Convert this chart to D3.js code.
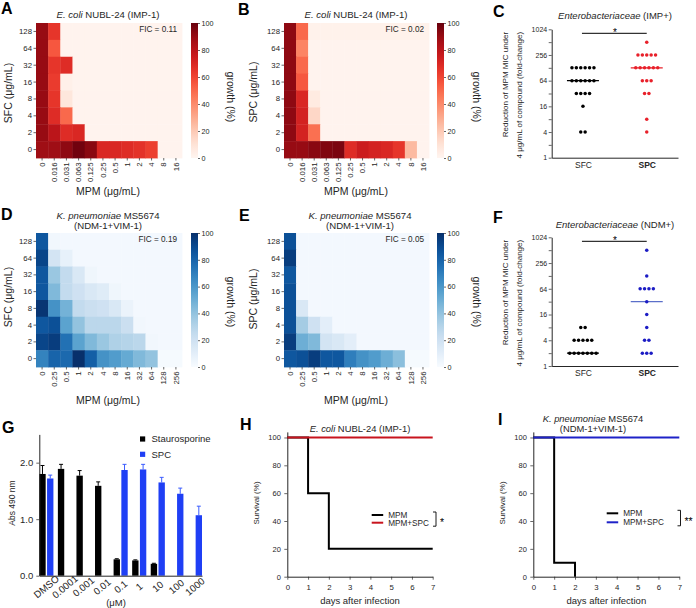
<!DOCTYPE html>
<html lang="en">
<head>
<meta charset="utf-8">
<title>MPM combination figure</title>
<script src="https://d3js.org/d3.v7.min.js"></script>
<style>
  body { margin: 0; background: #fff; }
  svg { display: block; }
</style>
</head>
<body>
<svg id="fig" width="696" height="608"></svg>
<script>
/* global d3 */
const FONT = "'Liberation Sans', Arial, Helvetica, sans-serif";
const INK = "#262626";

// ---------- heatmap data (growth %) ----------
const rowsConc = ["128", "64", "32", "16", "8", "4", "2", "0"];
const mpmImp = ["0", "0.016", "0.031", "0.063", "0.125", "0.25", "0.5", "1", "2", "4", "8", "16"];
const mpmNdm = ["0", "0.25", "0.5", "1", "2", "4", "8", "16", "32", "64", "128", "256"];
const cbTicks = [0, 20, 40, 60, 80, 100];

const growthA = [
    [90, 65, 1, 1, 1, 1, 1, 1, 1, 1, 1, 1],
    [90, 55, 1, 1, 1, 1, 1, 1, 1, 1, 1, 1],
    [90, 65, 68, 1, 1, 1, 1, 1, 1, 1, 1, 1],
    [90, 63, 3, 1, 1, 1, 1, 1, 1, 1, 1, 1],
    [90, 65, 8, 1, 1, 1, 1, 1, 1, 1, 1, 1],
    [90, 68, 50, 1, 1, 1, 1, 1, 1, 1, 1, 1],
    [90, 80, 68, 70, 1, 1, 1, 1, 1, 1, 1, 1],
    [88, 88, 92, 98, 93, 70, 70, 68, 66, 62, 1, 1]
];
const growthB = [
    [92, 50, 2, 2, 2, 2, 2, 2, 2, 2, 2, 2],
    [92, 42, 1, 1, 1, 1, 1, 1, 1, 1, 1, 1],
    [92, 50, 1, 1, 1, 1, 1, 1, 1, 1, 1, 1],
    [92, 55, 1, 1, 1, 1, 1, 1, 1, 1, 1, 1],
    [92, 70, 6, 1, 1, 1, 1, 1, 1, 1, 1, 1],
    [92, 72, 15, 1, 1, 1, 1, 1, 1, 1, 1, 1],
    [92, 72, 48, 1, 1, 1, 1, 1, 1, 1, 1, 1],
    [90, 90, 93, 95, 96, 68, 75, 72, 70, 65, 25, 1]
];
const growthD = [
    [85, 3, 2, 2, 2, 2, 2, 2, 2, 2, 2, 2],
    [92, 18, 8, 2, 2, 2, 2, 2, 2, 2, 2, 2],
    [85, 38, 25, 15, 4, 2, 2, 2, 2, 2, 2, 2],
    [85, 45, 25, 20, 15, 12, 4, 2, 2, 2, 2, 2],
    [98, 62, 48, 25, 22, 20, 15, 6, 2, 2, 2, 2],
    [85, 88, 55, 40, 28, 28, 28, 22, 3, 2, 2, 2],
    [92, 95, 75, 55, 45, 38, 32, 30, 28, 3, 2, 2],
    [68, 80, 78, 100, 82, 62, 58, 52, 45, 40, 1, 1]
];
const growthE = [
    [88, 2, 2, 2, 2, 2, 2, 2, 2, 2, 2, 2],
    [95, 2, 2, 2, 2, 2, 2, 2, 2, 2, 2, 2],
    [85, 2, 2, 2, 2, 2, 2, 2, 2, 2, 2, 2],
    [88, 2, 2, 2, 2, 2, 2, 2, 2, 2, 2, 2],
    [88, 15, 2, 2, 2, 2, 2, 2, 2, 2, 2, 2],
    [88, 35, 20, 10, 2, 2, 2, 2, 2, 2, 2, 2],
    [95, 50, 45, 18, 15, 10, 2, 2, 2, 2, 2, 2],
    [85, 88, 95, 85, 85, 70, 62, 58, 50, 42, 1, 1]
];

// ---------- dot plot data (fold reduction of MPM MIC) ----------
const impSFC = [128, 128, 128, 128, 128, 128, 64, 64, 64, 64, 64, 64, 32, 32, 32, 32, 16, 4, 4];
const impSPC = [512, 256, 256, 256, 256, 256, 128, 128, 128, 128, 128, 128, 64, 64, 64, 32, 32, 8, 4];
const ndmSFC = [8, 8, 4, 4, 4, 4, 4, 2, 2, 2, 2, 2, 2, 2];
const ndmSPC = [512, 128, 64, 64, 64, 64, 32, 16, 8, 4, 4, 2, 2, 2];
const medIMP = [64, 128];
const medNDM = [2, 32];
const foldTicks = [1, 2, 4, 8, 16, 32, 64, 128, 256, 512, 1024];
const foldLabels = [1, 4, 16, 64, 256, 1024];

// ---------- cytotoxicity bars ----------
const concG = ["DMSO", "0.0001", "0.001", "0.01", "0.1", "1", "10", "100", "1000"];
const stauroAbs = [1.80, 1.89, 1.77, 1.59, 0.29, 0.27, 0.21, null, null];
const stauroErr = [0.15, 0.08, 0.09, 0.07, 0.01, 0.01, 0.01, null, null];
const spcAbs = [1.72, null, null, null, 1.87, 1.88, 1.65, 1.45, 1.07];
const spcErr = [0.06, null, null, null, 0.10, 0.09, 0.09, 0.10, 0.16];

// ---------- survival ----------
const days = [0, 1, 2, 3, 4, 5, 6, 7];
const survH_MPM = [100, 60, 20, 20, 20, 20, 20, 20];
const survH_SPC = [100, 100, 100, 100, 100, 100, 100, 100];
const survI_MPM = [100, 10, 0];
const survI_SPC = [100, 100, 100, 100, 100, 100, 100, 100];

const svg = d3.select("#fig").attr("font-family", FONT);
const defs = svg.append("defs");

function label(g, x, y, s, size, opt) {
    opt = opt || {};
    const t = g.append("text")
        .attr("x", x).attr("y", y)
        .attr("font-size", size)
        .attr("fill", opt.fill || INK)
        .attr("text-anchor", opt.anchor || "middle");
    if (opt.weight) t.attr("font-weight", opt.weight);
    if (opt.rotate) t.attr("transform", `rotate(${opt.rotate},${x},${y})`);
    if (Array.isArray(s)) {
        s.forEach(part => {
            const ts = t.append("tspan").text(part[0]);
            if (part[1]) ts.attr("font-style", "italic");
        });
    } else {
        t.text(s);
    }
    return t;
}

function styleAxis(a, size) {
    a.selectAll("text").attr("font-size", size).attr("fill", INK).attr("font-family", FONT);
    a.selectAll("line").attr("stroke", INK).attr("stroke-width", 0.7);
    a.selectAll(".domain").attr("stroke", INK);
}

// panel letters
[["A", 1, 14], ["B", 238, 15], ["C", 493, 17], ["D", 1, 220], ["E", 239, 221],
 ["F", 493, 223], ["G", 2, 433], ["H", 240, 430], ["I", 498, 425]].forEach(d => {
    label(svg, d[1], d[2], d[0], 16, { anchor: "start", weight: "bold", fill: "#000" });
});

// ---------- heatmaps ----------
function heatmap(p) {
    const g = svg.append("g");
    const x = d3.scaleBand().domain(p.cols).range([p.x0, p.x1]);
    const y = d3.scaleBand().domain(rowsConc).range([p.y0, p.y1]);
    const cells = [];
    p.data.forEach((row, i) => row.forEach((v, j) => cells.push({ r: rowsConc[i], c: p.cols[j], v: v })));
    g.selectAll("rect.cell").data(cells).join("rect")
        .attr("class", "cell")
        .attr("x", d => x(d.c)).attr("y", d => y(d.r))
        .attr("width", x.bandwidth() + 0.4).attr("height", y.bandwidth() + 0.4)
        .attr("fill", d => p.interp(d.v / 100));

    const ya = g.append("g").attr("transform", `translate(${p.x0},0)`)
        .call(d3.axisLeft(y).tickSize(2.5).tickPadding(1.5));
    ya.select(".domain").remove();
    styleAxis(ya, 7.8);

    const xa = g.append("g").attr("transform", `translate(0,${p.y1})`)
        .call(d3.axisBottom(x).tickSize(2.5));
    xa.select(".domain").remove();
    styleAxis(xa, 7.8);
    xa.selectAll("text")
        .attr("transform", "rotate(-90)")
        .attr("x", -4.5).attr("y", 0).attr("dy", "0.34em")
        .attr("text-anchor", "end");

    // colorbar
    const gid = "grad" + p.id;
    const grad = defs.append("linearGradient").attr("id", gid)
        .attr("x1", 0).attr("y1", 1).attr("x2", 0).attr("y2", 0);
    d3.range(0, 1.0001, 0.05).forEach(t => grad.append("stop").attr("offset", t).attr("stop-color", p.interp(t)));
    g.append("rect").attr("x", p.cb).attr("y", p.y0).attr("width", 7).attr("height", p.y1 - p.y0)
        .attr("fill", `url(#${gid})`);
    const cy = d3.scaleLinear().domain([0, 100]).range([p.y1, p.y0]);
    const ca = g.append("g").attr("transform", `translate(${p.cb + 7},0)`)
        .call(d3.axisRight(cy).tickValues(cbTicks).tickSize(2).tickPadding(1.5));
    ca.select(".domain").remove();
    styleAxis(ca, 7.2);

    label(g, p.gx, p.gy, "growth (%)", 10.5, { rotate: 90 });
    label(g, p.yx, p.ly, p.ylab, 10.5, { rotate: -90 });
    label(g, p.tx, p.xlabY, "MPM (μg/mL)", 10.5);
    p.title.forEach((ln, i) => label(g, p.tx2 || p.tx, p.titleY[i], ln, 9.6));
    label(g, p.x1 - 5, p.y0 + 8.5, p.fic, 8.2, { anchor: "end" });
}

heatmap({ id: "A", cols: mpmImp, data: growthA, interp: d3.interpolateReds,
    x0: 36, x1: 182, y0: 23, y1: 158, cb: 191, gx: 227, gy: 97, yx: 12, ly: 93, ylab: "SFC (μg/mL)",
    tx: 108, xlabY: 195, titleY: [18], title: [[["E. coli", true], [" NUBL-24 (IMP-1)"]]], fic: "FIC = 0.11" });
heatmap({ id: "B", cols: mpmImp, data: growthB, interp: d3.interpolateReds,
    x0: 284, x1: 429, y0: 23, y1: 158, cb: 437, gx: 473, gy: 97, yx: 257, ly: 92, ylab: "SPC (μg/mL)",
    tx: 356, xlabY: 195, titleY: [18], title: [[["E. coli", true], [" NUBL-24 (IMP-1)"]]], fic: "FIC = 0.02" });
heatmap({ id: "D", cols: mpmNdm, data: growthD, interp: d3.interpolateBlues,
    x0: 36, x1: 182, y0: 233, y1: 367, cb: 191, gx: 227, gy: 302, yx: 12, ly: 297, ylab: "SFC (μg/mL)",
    tx: 108, xlabY: 404, titleY: [218.5, 228.5],
    title: [[["K. pneumoniae", true], [" MS5674"]], [["(NDM-1+VIM-1)"]]], fic: "FIC = 0.19" });
heatmap({ id: "E", cols: mpmNdm, data: growthE, interp: d3.interpolateBlues,
    x0: 284, x1: 429, y0: 233, y1: 367, cb: 437, gx: 473, gy: 302, yx: 257, ly: 299, ylab: "SPC (μg/mL)",
    tx: 356, tx2: 360, xlabY: 404, titleY: [218.5, 228.5],
    title: [[["K. pneumoniae", true], [" MS5674"]], [["(NDM-1+VIM-1)"]]], fic: "FIC = 0.05" });

// ---------- dot plots ----------
function dotPlot(p) {
    const g = svg.append("g");
    const y = d3.scaleLog().base(2).domain([1, 1024]).range([p.yb, p.yt]);
    const x = d3.scalePoint().domain(["SFC", "SPC"]).range([551.7, 678]).padding(0.49);

    const ya = g.append("g").attr("transform", "translate(551.7,0)")
        .call(d3.axisLeft(y).tickValues(foldTicks).tickSize(3).tickSizeOuter(0).tickPadding(1.5)
            .tickFormat(d => foldLabels.includes(d) ? d : ""));
    styleAxis(ya, 7);

    const xa = g.append("g").attr("transform", `translate(0,${p.yb})`)
        .call(d3.axisBottom(x).tickSize(0).tickSizeOuter(0).tickPadding(4));
    styleAxis(xa, 8.5);
    xa.selectAll("text").attr("font-weight", d => d === "SPC" ? "bold" : null);

    // median lines
    const meds = [["SFC", p.med[0], p.lc[0]], ["SPC", p.med[1], p.lc[1]]];
    g.selectAll("line.med").data(meds).join("line")
        .attr("x1", d => x(d[0]) - 16).attr("x2", d => x(d[0]) + 16)
        .attr("y1", d => y(d[1])).attr("y2", d => y(d[1]))
        .attr("stroke", d => d[2]).attr("stroke-width", 1.3);

    const dots = [];
    [["SFC", p.sfc, p.c[0]], ["SPC", p.spc, p.c[1]]].forEach(grp => {
        d3.group(grp[1], v => v).forEach((arr, v) => {
            arr.forEach((_, i) => dots.push({ k: grp[0], v: v, off: (i - (arr.length - 1) / 2) * 4.4, col: grp[2] }));
        });
    });
    g.selectAll("circle").data(dots).join("circle")
        .attr("cx", d => x(d.k) + d.off).attr("cy", d => y(d.v))
        .attr("r", 1.75).attr("fill", d => d.col);

    // significance
    g.append("line").attr("x1", x("SFC") - 1).attr("x2", x("SPC"))
        .attr("y1", p.yt + 4).attr("y2", p.yt + 4).attr("stroke", "#000").attr("stroke-width", 1);
    label(g, (x("SFC") + x("SPC")) / 2, p.yt + 6.5, "*", 10, { fill: "#000" });

    label(g, 615, p.titleY, p.title, 9.5);
    label(g, 507.7, p.yt + 2.5, "Reduction of MPM MIC under", 8, { anchor: "end", rotate: -90 });
    label(g, 521.7, p.yt + 2.5, "4 μg/mL of compound (fold-change)", 8, { anchor: "end", rotate: -90 });
}

dotPlot({ yb: 157.7, yt: 29.3, sfc: impSFC, spc: impSPC, med: medIMP,
    c: ["#000", "#e8202a"], lc: ["#000", "#e8202a"], titleY: 19,
    title: [["Enterobacteriaceae", true], [" (IMP+)"]] });
dotPlot({ yb: 366, yt: 237.3, sfc: ndmSFC, spc: ndmSPC, med: medNDM,
    c: ["#000", "#1c1cc4"], lc: ["#000", "#5b6fc9"], titleY: 228,
    title: [["Enterobacteriaceae", true], [" (NDM+)"]] });

// ---------- bar chart G ----------
(function () {
    const g = svg.append("g");
    const x = d3.scaleBand().domain(concG).range([39.3, 202]).paddingInner(0.24).paddingOuter(0);
    const xs = d3.scaleBand().domain(["stauro", "spc"]).range([0, x.bandwidth()]).paddingInner(0.18);
    const y = d3.scaleLinear().domain([0, 2.5]).range([575.7, 434.4]);
    const col = { stauro: "#000000", spc: "#1f3ff5" };
    const ecol = { stauro: "#000000", spc: "#3a5cff" };

    const bars = [];
    concG.forEach((c, i) => {
        if (stauroAbs[i] != null) bars.push({ c: c, s: "stauro", v: stauroAbs[i], e: stauroErr[i] });
        if (spcAbs[i] != null) bars.push({ c: c, s: "spc", v: spcAbs[i], e: spcErr[i] });
    });
    const bx = d => x(d.c) + xs(d.s);
    g.selectAll("line.err").data(bars).join("line")
        .attr("x1", d => bx(d) + xs.bandwidth() / 2).attr("x2", d => bx(d) + xs.bandwidth() / 2)
        .attr("y1", d => y(d.v)).attr("y2", d => y(d.v + d.e))
        .attr("stroke", d => ecol[d.s]).attr("stroke-width", 1);
    g.selectAll("line.cap").data(bars).join("line")
        .attr("x1", d => bx(d) + xs.bandwidth() / 2 - 2).attr("x2", d => bx(d) + xs.bandwidth() / 2 + 2)
        .attr("y1", d => y(d.v + d.e)).attr("y2", d => y(d.v + d.e))
        .attr("stroke", d => ecol[d.s]).attr("stroke-width", 1);
    g.selectAll("rect.bar").data(bars).join("rect")
        .attr("x", bx).attr("width", xs.bandwidth())
        .attr("y", d => y(d.v)).attr("height", d => y(0) - y(d.v))
        .attr("fill", d => col[d.s]);

    const ya = g.append("g").attr("transform", "translate(39.3,0)")
        .call(d3.axisLeft(y).tickValues([0, 1, 2]).tickSize(3).tickSizeOuter(0).tickPadding(3));
    styleAxis(ya, 9.5);
    const xa = g.append("g").attr("transform", "translate(0,575.7)")
        .call(d3.axisBottom(x).tickSize(0).tickSizeOuter(0));
    styleAxis(xa, 9.8);
    xa.selectAll("text")
        .attr("transform", "translate(0,11) rotate(-40)")
        .attr("y", 0).attr("dy", "0.35em").attr("text-anchor", "middle");

    label(g, 116, 605.5, "(μM)", 9.5);
    label(g, 15, 503, "Abs 490 nm", 8.5, { rotate: -90 });
    [["stauro", "Staurosporine", 439], ["spc", "SPC", 454.3]].forEach(d => {
        g.append("rect").attr("x", 140).attr("y", d[2] - 2.6).attr("width", 5.2).attr("height", 5.2).attr("fill", col[d[0]]);
        label(g, 151.5, d[2] + 3.4, d[1], 9.5, { anchor: "start" });
    });
})();

// ---------- survival H, I ----------
function survival(p) {
    const g = svg.append("g");
    const x = d3.scaleLinear().domain([0, 7]).range([p.x0, p.x1]);
    const y = d3.scaleLinear().domain([0, 104]).range([576.7, 431.9]);

    const ya = g.append("g").attr("transform", `translate(${p.x0},0)`)
        .call(d3.axisLeft(y).tickValues([0, 20, 40, 60, 80, 100]).tickFormat(d3.format("d"))
            .tickSize(3).tickSizeOuter(0).tickPadding(3.5));
    styleAxis(ya, 7.5);
    const xa = g.append("g").attr("transform", "translate(0,576.7)")
        .call(d3.axisBottom(x).tickValues(days).tickFormat(d3.format("d"))
            .tickSize(3).tickSizeOuter(0).tickPadding(4.5));
    styleAxis(xa, 7.8);

    const line = d3.line().x((d, i) => x(days[i])).y(d => y(d)).curve(d3.curveStepAfter);
    g.append("path").attr("d", line(p.mpm)).attr("fill", "none").attr("stroke", "#000").attr("stroke-width", 2);
    g.append("path").attr("d", line(p.spc)).attr("fill", "none").attr("stroke", p.col).attr("stroke-width", 2);

    p.title.forEach((ln, i) => label(g, p.tx, p.titleY[i], ln, 9.4));
    label(g, (p.x0 + p.x1) / 2, 604, "days after infection", 9.5);
    label(g, p.x0 - 28, 503, "Survival (%)", 8, { rotate: -90 });

    // legend
    [["MPM", "#000", p.ly[0]], ["MPM+SPC", p.col, p.ly[1]]].forEach(d => {
        g.append("line").attr("x1", p.lx).attr("x2", p.lx + 11.5).attr("y1", d[2]).attr("y2", d[2])
            .attr("stroke", d[1]).attr("stroke-width", 2);
        label(g, p.lx + 16.5, d[2] + 3, d[0], 8.2, { anchor: "start" });
    });
    const bx = p.bx, b0 = p.ly[0] - 3, b1 = p.ly[1] + 3.5;
    g.append("path").attr("d", `M${bx - 3},${b0}H${bx}V${b1}H${bx - 3}`)
        .attr("fill", "none").attr("stroke", "#000").attr("stroke-width", 0.9);
    label(g, bx + 4, (b0 + b1) / 2 + 7, p.star, 10.5, { anchor: "start", fill: "#000" });
}

survival({ x0: 287.3, x1: 432.7, mpm: survH_MPM, spc: survH_SPC, col: "#c8141e",
    tx: 360, titleY: [432], title: [[["E. coli", true], [" NUBL-24 (IMP-1)"]]],
    lx: 371.7, ly: [515, 522.7], bx: 436, star: "*" });
survival({ x0: 533.3, x1: 679.3, mpm: survI_MPM, spc: survI_SPC, col: "#1e22c8",
    tx: 593, titleY: [421.5, 431.5],
    title: [[["K. pneumoniae", true], [" MS5674"]], [["(NDM-1+VIM-1)"]]],
    lx: 606.7, ly: [513.3, 522.3], bx: 680.5, star: "**" });
</script>
</body>
</html>
